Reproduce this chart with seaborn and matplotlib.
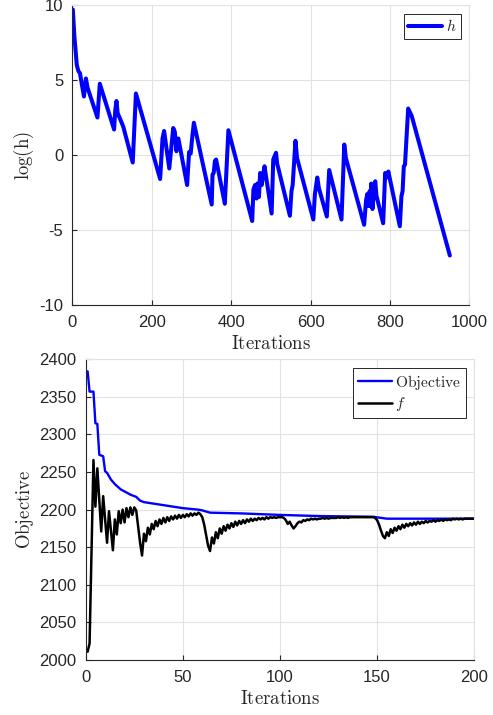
import numpy as np
import matplotlib
matplotlib.use('Agg')
import matplotlib.pyplot as plt
import seaborn as sns

# --- top: log(h) per iteration (corner points of the sawtooth)
h_iter = [1, 5, 11, 15, 19, 29, 34, 38, 63, 69, 105, 108, 111, 114, 128,
          152, 160, 221, 227, 231, 244, 254, 258, 262, 267, 289, 294, 298, 302, 306,
          351, 353, 356, 359, 362, 384, 393, 453, 456, 460, 464, 466, 470, 473, 477,
          480, 484, 502, 506, 513, 516, 519, 548, 552, 555, 562, 566, 607, 611, 617,
          621, 641, 647, 678, 685, 689, 735, 740, 743, 746, 749, 751, 753, 756, 759,
          763, 766, 783, 788, 792, 796, 825, 829, 832, 835, 838, 846, 855, 951]
h_val = [9.7, 7.9, 6.0, 5.6, 5.45, 3.9, 5.1, 4.5, 2.5, 4.75, 1.7, 3.0, 3.6, 2.8, 1.9,
         -0.5, 4.1, -1.6, 1.1, 1.6, -0.9, 1.8, 1.55, 0.25, 1.1, -2.0, 0.2, 0.1, 1.2, 2.15,
         -3.3, -1.3, -1.2, -0.4, -0.3, -3.25, 1.65, -4.4, -2.3, -2.0, -2.9, -1.9, -2.8, -1.2, -2.0,
         -1.4, -0.75, -3.9, -0.3, 0.15, -0.6, -0.9, -4.05, -2.4, -2.0, 0.95, -0.2, -4.3, -2.6, -1.5,
         -2.2, -4.1, -1.0, -4.3, 0.7, -0.2, -4.65, -3.0, -2.6, -3.4, -2.4, -3.4, -1.9, -3.6, -2.7,
         -1.75, -2.7, -4.55, -1.2, -1.5, -1.1, -4.75, -2.75, -2.4, -0.75, -0.65, 3.1, 2.6, -6.7]

# --- bottom: objective (monotone) and f per iteration
obj_iter = [1, 2, 4, 5, 6, 7, 9, 10, 11, 13, 15, 18, 23, 26, 28, 30, 40, 50,
            58, 60, 64, 80, 100, 120, 148, 155, 200]
obj_val = [2384, 2357, 2357, 2315, 2314, 2273, 2271, 2251, 2249, 2240, 2234, 2227, 2220,
           2217, 2212, 2210, 2206, 2202, 2200, 2199, 2196, 2195, 2193, 2191.5, 2190.5, 2188, 2188]

f_iter = list(range(1, 201))
f_val = [2011, 2022, 2144, 2266, 2204, 2255, 2213, 2171, 2218, 2187,
         2156, 2198, 2172, 2146, 2187, 2167, 2198, 2182, 2200, 2183,
         2202, 2190, 2203, 2193, 2203, 2199, 2178, 2156, 2139, 2168,
         2158, 2176, 2167, 2181, 2174, 2185, 2178, 2187, 2181, 2189,
         2183, 2190, 2185, 2191, 2187, 2192, 2188, 2193, 2189, 2193,
         2190, 2194, 2191, 2195, 2192, 2195, 2193, 2196, 2194, 2190,
         2180, 2166, 2152, 2145, 2163, 2155, 2170, 2162, 2175, 2168,
         2178, 2172, 2180, 2175, 2182, 2177, 2184, 2179, 2185, 2181,
         2186, 2182, 2187, 2184, 2188, 2185, 2188, 2186, 2189, 2187,
         2189, 2187, 2190, 2188, 2190, 2189, 2190, 2189, 2190, 2190,
         2190, 2189, 2186, 2181, 2184, 2179, 2175, 2178, 2182, 2184,
         2183, 2186, 2185, 2187, 2186, 2188, 2187, 2188, 2187, 2188,
         2188, 2189, 2188, 2189, 2188, 2189, 2189, 2189, 2189, 2190,
         2189, 2190, 2189, 2190, 2189, 2190, 2190, 2190, 2190, 2190,
         2190, 2190, 2190, 2190, 2190, 2190, 2190, 2190, 2189, 2186,
         2180, 2172, 2165, 2162, 2170, 2165, 2174, 2169, 2176, 2172,
         2178, 2174, 2180, 2176, 2181, 2178, 2182, 2179, 2183, 2180,
         2184, 2181, 2184, 2182, 2185, 2183, 2185, 2184, 2186, 2184,
         2186, 2185, 2187, 2185, 2187, 2186, 2187, 2186, 2188, 2187,
         2188, 2187, 2188, 2187, 2188, 2188, 2188, 2188, 2188, 2188]

sns.set_style('whitegrid')
plt.rcParams['font.family'] = ['Liberation Sans', 'DejaVu Sans']
plt.rcParams['mathtext.fontset'] = 'cm'
plt.rcParams['axes.unicode_minus'] = False

fig = plt.figure(figsize=(4.93, 7.15), dpi=100)
ax1 = fig.add_axes([0.1469, 0.5734, 0.805, 0.4196])
ax2 = fig.add_axes([0.1738, 0.0769, 0.7882, 0.4206])

grid_c = '#e2e2e2'
dark = '#262626'


def style(ax):
    ax.grid(True, color=grid_c, lw=0.8)
    for s in ['top', 'right']:
        ax.spines[s].set_color(grid_c)
        ax.spines[s].set_linewidth(0.8)
    for s in ['left', 'bottom']:
        ax.spines[s].set_color(dark)
        ax.spines[s].set_linewidth(0.8)
    ax.tick_params(direction='in', length=3.5, width=0.8, color=dark,
                   labelcolor=dark, labelsize=12, left=True, bottom=True,
                   top=False, right=False)
    ax.tick_params(axis='x', pad=7)
    ax.tick_params(axis='y', pad=6.5)


# top plot
sns.lineplot(x=h_iter, y=h_val, ax=ax1, color='blue', lw=2.9, label='$h$',
             estimator=None, sort=False)
ax1.set_xlim(0, 1000)
ax1.set_ylim(-10, 10)
ax1.set_xticks([0, 200, 400, 600, 800, 1000])
ax1.set_yticks([-10, -5, 0, 5, 10])
style(ax1)
ax1.set_xlabel(r'$\mathrm{Iterations}$', fontsize=13.5, color=dark)
ax1.set_ylabel(r'$\mathrm{log(h)}$', fontsize=13.5, color=dark)
ax1.xaxis.set_label_coords(0.5, -0.1)
ax1.yaxis.set_label_coords(-0.092, 0.5)

# bottom plot
sns.lineplot(x=obj_iter, y=obj_val, ax=ax2, color='blue', lw=1.7,
             label=r'$\mathrm{Objective}$', estimator=None, sort=False)
sns.lineplot(x=f_iter, y=f_val, ax=ax2, color='black', lw=1.8, label='$f$',
             estimator=None, sort=False)
ax2.set_xlim(0, 200)
ax2.set_ylim(2000, 2400)
ax2.set_xticks([0, 50, 100, 150, 200])
ax2.set_yticks(np.arange(2000, 2401, 50))
style(ax2)
ax2.set_xlabel(r'$\mathrm{Iterations}$', fontsize=13.5, color=dark)
ax2.set_ylabel(r'$\mathrm{Objective}$', fontsize=13.5, color=dark)
ax2.xaxis.set_label_coords(0.5, -0.1)
ax2.yaxis.set_label_coords(-0.128, 0.5)

for ax in [ax1, ax2]:
    leg = ax.legend(loc='upper right', frameon=True, fancybox=False,
                    edgecolor=dark, framealpha=1, fontsize=11.2,
                    handlelength=2.2, handletextpad=0.2, borderpad=0.3,
                    borderaxespad=0.55, labelspacing=0.25)
    leg.get_frame().set_linewidth(0.7)

fig.savefig('out.png', dpi=100)
